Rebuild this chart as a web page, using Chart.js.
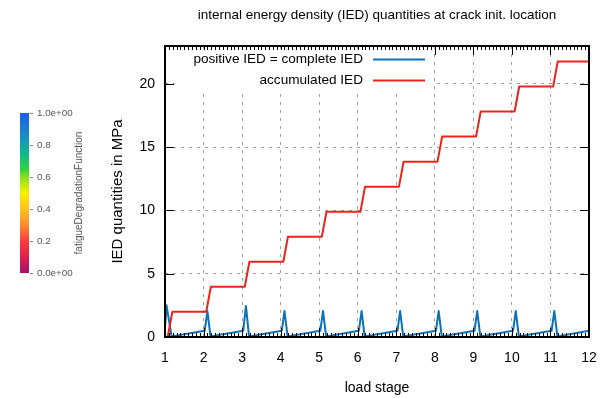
<!DOCTYPE html>
<html>
<head>
<meta charset="utf-8">
<script src="https://cdn.jsdelivr.net/npm/chart.js@4/dist/chart.umd.min.js"></script>
<style>
  html, body { margin: 0; padding: 0; background: #fff; }
  #wrap { width: 613px; height: 398px; }
</style>
</head>
<body>
<div id="wrap"><canvas id="ied"></canvas></div>
<script>
'use strict';

// DATA
let xTicks = [1, 2, 3, 4, 5, 6, 7, 8, 9, 10, 11, 12];
let yTicks = [0, 5, 10, 15, 20];

// positive IED = complete IED
let posX = [1.00, 1.04, 1.17,
  2.03, 2.10, 2.18, 3.03, 3.10, 3.18, 4.03, 4.10, 4.18,
  5.03, 5.10, 5.18, 6.03, 6.10, 6.18, 7.03, 7.10, 7.18,
  8.03, 8.10, 8.18, 9.03, 9.10, 9.18, 10.03, 10.10, 10.18,
  11.03, 11.10, 11.18, 12.00];
let posY = [0.7, 2.5, 0.05,
  0.5, 2.05, 0.05, 0.5, 2.45, 0.05, 0.5, 2.05, 0.05,
  0.5, 2.05, 0.05, 0.5, 2.05, 0.05, 0.5, 2.05, 0.05,
  0.5, 2.05, 0.05, 0.5, 2.05, 0.05, 0.5, 2.05, 0.05,
  0.5, 2.05, 0.05, 0.5];

// accumulated IED
let accX = [1.07, 1.19, 2.07, 2.19, 3.07, 3.19, 4.07, 4.19, 5.07, 5.19,
  6.07, 6.19, 7.07, 7.19, 8.07, 8.19, 9.07, 9.19, 10.07, 10.19,
  11.07, 11.19, 12.00];
let accY = [0, 2.0, 2.0, 3.97, 3.97, 5.95, 5.95, 7.93, 7.93, 9.9,
  9.9, 11.88, 11.88, 13.86, 13.86, 15.84, 15.84, 17.82, 17.82, 19.8,
  19.8, 21.78, 21.78];

// colour bar for fatigueDegradationFunction
let cbTicks = [0, 0.2, 0.4, 0.6, 0.8, 1.0];
let cbLabels = ['0.0e+00', '0.2', '0.4', '0.6', '0.8', '1.0e+00'];
let cbStops = [
  [0.0, '#a3106e'], [0.1, '#e0204e'], [0.2, '#ff3c3c'], [0.3, '#ff8a30'],
  [0.4, '#ffc020'], [0.5, '#f8f000'], [0.6, '#88e020'], [0.65, '#30d040'],
  [0.75, '#10b890'], [0.85, '#1890c0'], [1.0, '#1e5ce8']
];

let chartTitle = 'internal energy density (IED) quantities at crack init. location';

const FONT = "'Liberation Sans', Arial, sans-serif";
Chart.defaults.font.family = FONT;
Chart.defaults.color = '#000';

function toPoints(xs, ys) {
  let pts = [];
  for (let i = 0; i < xs.length; i++) {
    pts.push({ x: xs[i], y: ys[i] });
  }
  return pts;
}

// inward tick marks on all four sides, minor ticks along x
const tickMarks = {
  id: 'tickMarks',
  afterDatasetsDraw(chart) {
    const { ctx, chartArea: a, scales: { x, y } } = chart;
    ctx.save();
    ctx.strokeStyle = '#000';
    ctx.lineWidth = 1;
    ctx.beginPath();
    for (let v = 10; v <= 120; v++) {
      let px = Math.round(x.getPixelForValue(v / 10)) + 0.5;
      let len = v % 10 === 0 ? 9 : 4;
      ctx.moveTo(px, a.bottom); ctx.lineTo(px, a.bottom - len);
      ctx.moveTo(px, a.top); ctx.lineTo(px, a.top + len);
    }
    for (let t of yTicks) {
      let py = Math.round(y.getPixelForValue(t)) + 0.5;
      ctx.moveTo(a.left, py); ctx.lineTo(a.left + 9, py);
      ctx.moveTo(a.right, py); ctx.lineTo(a.right - 9, py);
    }
    ctx.stroke();
    ctx.lineWidth = 2;
    ctx.strokeRect(a.left, a.top, a.right - a.left, a.bottom - a.top);
    ctx.restore();
  }
};

// key box in the upper left corner of the plot, title above the plot
const keyBox = {
  id: 'keyBox',
  afterDraw(chart) {
    const { ctx, chartArea: a } = chart;
    ctx.save();
    ctx.fillStyle = '#fff';
    ctx.fillRect(a.left + 10, a.top + 4, 258, 40);
    ctx.font = '13.6px ' + FONT;
    ctx.textAlign = 'right';
    ctx.textBaseline = 'middle';
    chart.data.datasets.forEach((ds, i) => {
      let ty = a.top + 13.5 + i * 21;
      ctx.fillStyle = '#000';
      ctx.fillText(ds.label, a.left + 198, ty);
      ctx.strokeStyle = ds.borderColor;
      ctx.lineWidth = 2;
      ctx.beginPath();
      ctx.moveTo(a.left + 208, ty);
      ctx.lineTo(a.left + 260, ty);
      ctx.stroke();
    });
    ctx.font = '13.5px ' + FONT;
    ctx.textAlign = 'center';
    ctx.fillText(chartTitle, (a.left + a.right) / 2, 15);
    ctx.restore();
  }
};

// colour bar on the left of the page
const colorBar = {
  id: 'colorBar',
  afterDraw(chart) {
    const ctx = chart.ctx;
    const left = 20, width = 9, top = 113, bottom = 273;
    ctx.save();
    let grad = ctx.createLinearGradient(0, bottom, 0, top);
    cbStops.forEach(s => grad.addColorStop(s[0], s[1]));
    ctx.fillStyle = grad;
    ctx.fillRect(left, top, width, bottom - top);
    ctx.strokeStyle = '#888';
    ctx.lineWidth = 1;
    ctx.fillStyle = '#555';
    ctx.font = '9.8px ' + FONT;
    ctx.textAlign = 'left';
    ctx.textBaseline = 'middle';
    cbTicks.forEach((t, i) => {
      let py = Math.round(bottom - t * (bottom - top)) + 0.5;
      ctx.beginPath();
      ctx.moveTo(left + width + 1, py);
      ctx.lineTo(left + width + 4, py);
      ctx.stroke();
      ctx.fillText(cbLabels[i], left + width + 8, py);
    });
    ctx.translate(79, (top + bottom) / 2);
    ctx.rotate(-Math.PI / 2);
    ctx.textAlign = 'center';
    ctx.font = '10px ' + FONT;
    ctx.fillText('fatigueDegradationFunction', 0, 0);
    ctx.restore();
  }
};

const ctx = document.getElementById('ied').getContext('2d');
const iedChart = new Chart(ctx, {
  type: 'scatter',
  data: {
    datasets: [{
      label: 'positive IED = complete IED',
      data: toPoints(posX, posY),
      showLine: true,
      borderColor: '#0b72b8',
      borderWidth: 2,
      borderJoinStyle: 'round',
      pointRadius: 0,
      order: 2
    },
    {
      label: 'accumulated IED',
      data: toPoints(accX, accY),
      showLine: true,
      borderColor: '#e8241c',
      borderWidth: 2,
      borderJoinStyle: 'round',
      pointRadius: 0,
      order: 1
    }]
  },
  options: {
    responsive: true,
    maintainAspectRatio: false,
    animation: false,
    layout: { padding: { left: 105, right: 24, top: 46, bottom: 0 } },
    plugins: {
      legend: { display: false },
      tooltip: { enabled: false },
      title: { display: false }
    },
    scales: {
      x: {
        type: 'linear',
        min: 1,
        max: 12,
        afterBuildTicks: scale => { scale.ticks = xTicks.map(v => ({ value: v })); },
        afterFit: scale => { scale.height = 61; },
        ticks: { font: { size: 14 }, padding: 13, maxRotation: 0 },
        grid: { color: '#a0a0a0', drawTicks: false },
        border: { display: false, dash: [3, 5] },
        title: { display: true, text: 'load stage', font: { size: 14 }, padding: { top: 4, bottom: 1 } }
      },
      y: {
        min: 0,
        max: 23,
        afterBuildTicks: scale => { scale.ticks = yTicks.map(v => ({ value: v })); },
        afterFit: scale => { scale.width = 60; },
        ticks: { font: { size: 14 }, padding: 10 },
        grid: { color: '#a0a0a0', drawTicks: false },
        border: { display: false, dash: [3, 5] },
        title: { display: true, text: 'IED quantities in MPa', font: { size: 15 }, padding: { top: 4, bottom: 4 } }
      }
    }
  },
  plugins: [tickMarks, keyBox, colorBar]
});
</script>
</body>
</html>
